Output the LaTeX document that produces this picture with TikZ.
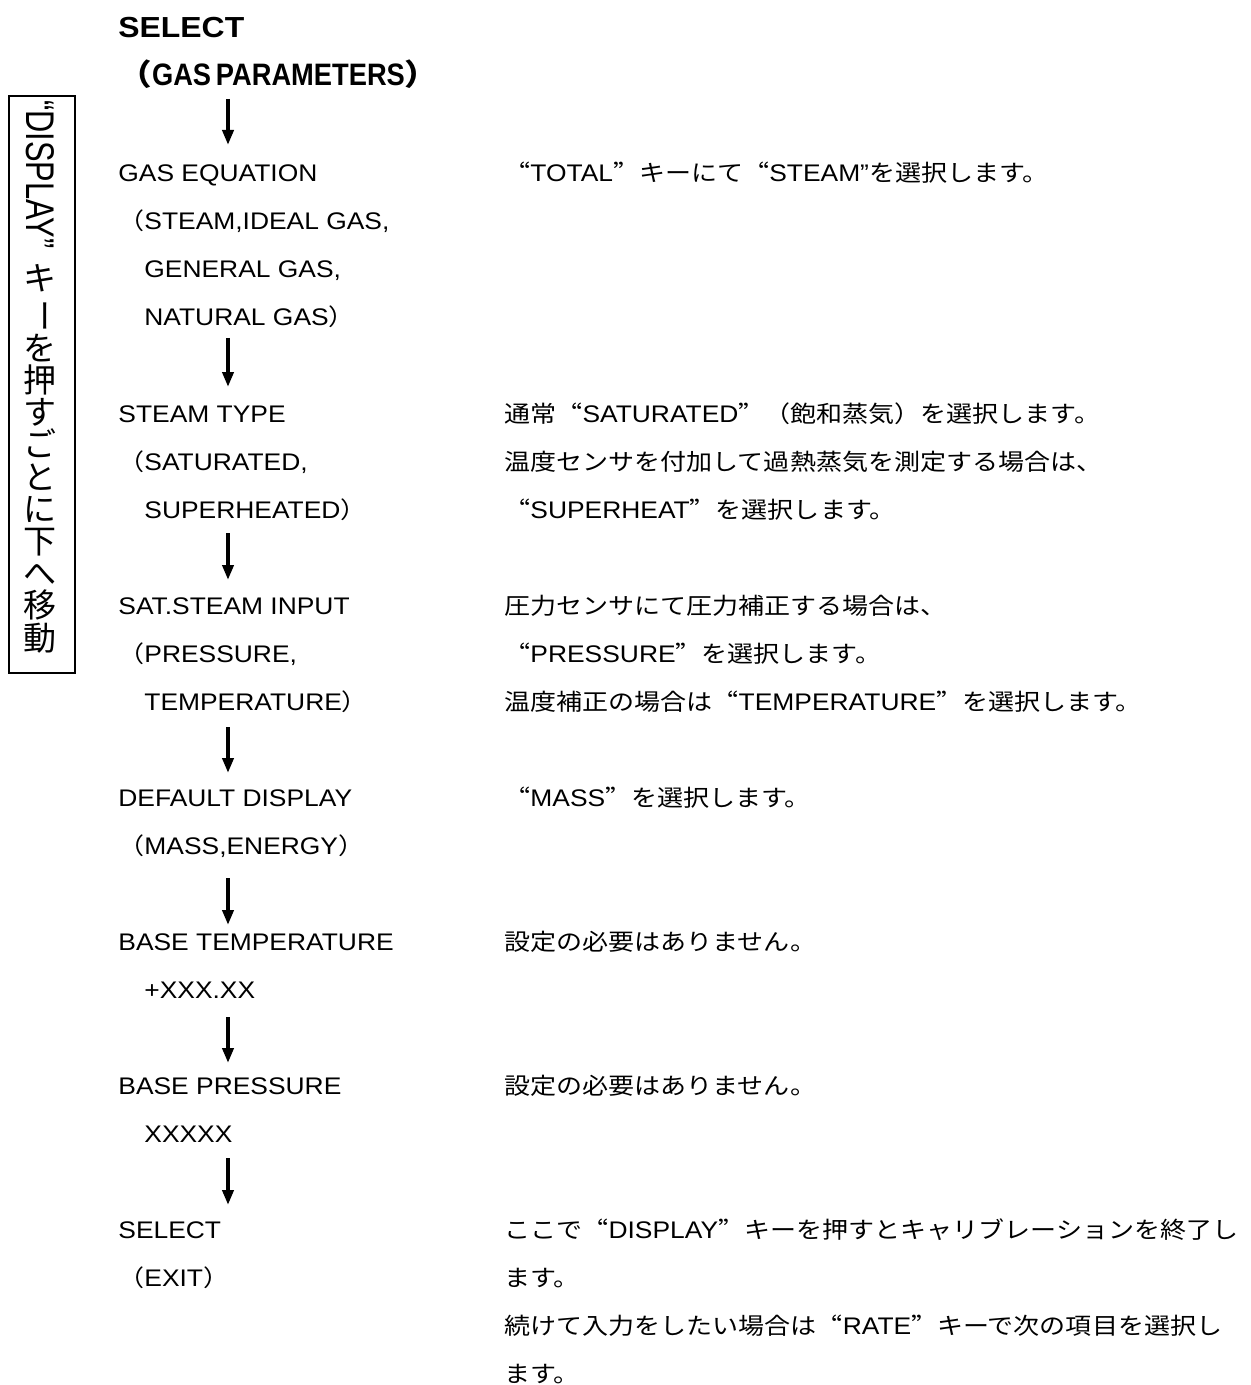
\documentclass[tikz,border=0pt]{standalone}
\usepackage{fontspec}
\usepackage{graphicx}
\setmainfont{Liberation Sans}[FakeStretch=1.1]
\newfontfamily\jp{Noto Sans CJK JP}[Scale=0.96,FakeStretch=1.13,RawFeature=+fwid]
\newfontfamily\jpv{Noto Sans CJK JP}
\usetikzlibrary{arrows.meta}
\newcommand\J[1]{{\jp #1}}
\tikzset{
  txt/.style={anchor=base west, inner sep=0pt, font=\fontsize{12}{14}\selectfont},
  arr/.style={line width=2pt, -{Triangle[width=5.5pt,length=7.5pt]}},
  frame/.style={draw, line width=1pt, inner sep=0pt},
}
\begin{document}
\begin{tikzpicture}[x=0.5pt, y=-0.5pt]
\useasboundingbox (0,0) rectangle (1250,1385);
\coordinate (ax) at (228,0);

% vertical side box
\node[frame, minimum width=33pt, minimum height=288.5pt, anchor=north west] (vbox) at (8,95) {};
\node[rotate=-90, anchor=base west, inner sep=0pt] (vdisp) at (26,100)
  {\scalebox{0.7}[1]{\fontsize{20}{20}\selectfont “DISPLAY”}};
\node[anchor=north, inner sep=0pt, align=center, font=\jpv\fontsize{16.5}{16.1}\selectfont] (vjp) at (40,264)
  {キ\\\rotatebox[origin=c]{-90}{ー}\\を\\押\\す\\ご\\と\\に\\下\\へ\\移\\動};

% header
\node[txt, font=\bfseries\fontsize{14.5}{16}\selectfont] (h0) at (118,38) {SELECT};
\node[txt, font=\bfseries\fontsize{15.5}{16}\selectfont] (h1) at (118,86)
  {\J{（}\scalebox{0.8}[1]{GAS\hspace{3pt}PARAMETERS}\J{）}};

% left column
\node[txt] (l3)  at (118,182)  {GAS EQUATION};
\node[txt] (l4)  at (118,230)  {\J{（}STEAM,IDEAL GAS,};
\node[txt] (l5)  at (144,278)  {GENERAL GAS,};
\node[txt] (l6)  at (144,326)  {NATURAL GAS\J{）}};
\node[txt] (l8)  at (118,422)  {STEAM TYPE};
\node[txt] (l9)  at (118,470)  {\J{（}SATURATED,};
\node[txt] (l10) at (144,518)  {SUPERHEATED\J{）}};
\node[txt] (l12) at (118,614)  {SAT.STEAM INPUT};
\node[txt] (l13) at (118,662)  {\J{（}PRESSURE,};
\node[txt] (l14) at (144,710)  {TEMPERATURE\J{）}};
\node[txt] (l16) at (118,806)  {DEFAULT DISPLAY};
\node[txt] (l17) at (118,854)  {\J{（}MASS,ENERGY\J{）}};
\node[txt] (l19) at (118,950)  {BASE TEMPERATURE};
\node[txt] (l20) at (144,998)  {+XXX.XX};
\node[txt] (l22) at (118,1094) {BASE PRESSURE};
\node[txt] (l23) at (144,1142) {XXXXX};
\node[txt] (l25) at (118,1238) {SELECT};
\node[txt] (l26) at (118,1286) {\J{（}EXIT\J{）}};

% right column
\node[txt] (r3)  at (504,182)  {\J{“}TOTAL\J{”キーにて“}STEAM”\J{を選択します。}};
\node[txt] (r8)  at (504,422)  {\J{通常“}SATURATED\J{”（飽和蒸気）を選択します。}};
\node[txt] (r9)  at (504,470)  {\J{温度センサを付加して過熱蒸気を測定する場合は、}};
\node[txt] (r10) at (504,518)  {\J{“}SUPERHEAT\J{”を選択します。}};
\node[txt] (r12) at (504,614)  {\J{圧力センサにて圧力補正する場合は、}};
\node[txt] (r13) at (504,662)  {\J{“}PRESSURE\J{”を選択します。}};
\node[txt] (r14) at (504,710)  {\J{温度補正の場合は“}TEMPERATURE\J{”を選択します。}};
\node[txt] (r16) at (504,806)  {\J{“}MASS\J{”を選択します。}};
\node[txt] (r19) at (504,950)  {\J{設定の必要はありません。}};
\node[txt] (r22) at (504,1094) {\J{設定の必要はありません。}};
\node[txt] (r25) at (504,1238) {\J{ここで“}DISPLAY\J{”キーを押すとキャリブレーションを終了し}};
\node[txt] (r26) at (504,1286) {\J{ます。}};
\node[txt] (r27) at (504,1334) {\J{続けて入力をしたい場合は“}RATE\J{”キーで次の項目を選択し}};
\node[txt] (r28) at (504,1382) {\J{ます。}};

% arrows
\draw[arr, shorten <=6.5pt, shorten >=18.5pt] (h1.base -| ax) -- (l3.base -| ax);
\draw[arr, shorten <=6pt,   shorten >=17.5pt] (l6.base -| ax) -- (l8.base -| ax);
\draw[arr, shorten <=7.5pt, shorten >=17pt]   (l10.base -| ax) -- (l12.base -| ax);
\draw[arr, shorten <=8.5pt, shorten >=16.5pt] (l14.base -| ax) -- (l16.base -| ax);
\draw[arr, shorten <=12pt,  shorten >=12.5pt] (l17.base -| ax) -- (l19.base -| ax);
\draw[arr, shorten <=9.5pt, shorten >=15.5pt] (l20.base -| ax) -- (l22.base -| ax);
\draw[arr, shorten <=8pt,   shorten >=16.5pt] (l23.base -| ax) -- (l25.base -| ax);
\end{tikzpicture}
\end{document}
